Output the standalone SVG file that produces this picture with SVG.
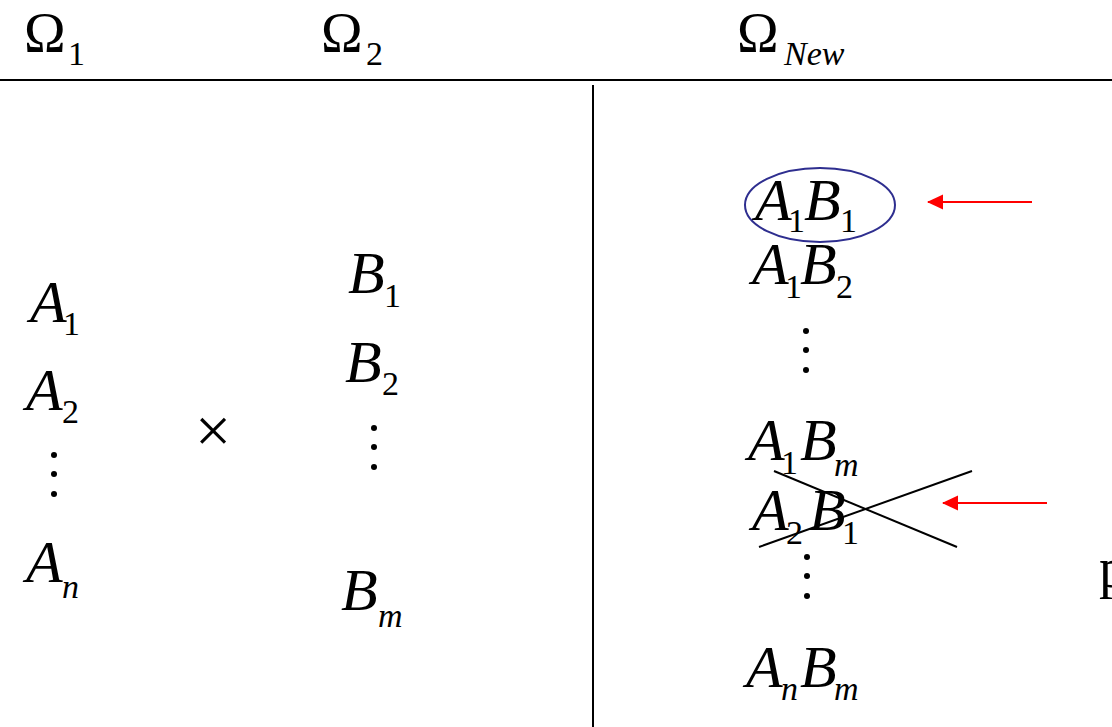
<svg xmlns="http://www.w3.org/2000/svg" width="1112" height="727" viewBox="0 0 1112 727">
<defs>
<style>
text{font-family:"Liberation Serif","Times New Roman","DejaVu Serif",serif;fill:#000}
.m{font-style:italic;font-size:60px}
.s{font-size:34px}
.si{font-style:italic;font-size:34px}
.o{font-size:56px}
.ln{stroke:#000;stroke-width:2;fill:none}
.ar{stroke:#ff0000;stroke-width:2;fill:none}
</style>
<marker id="ah" viewBox="0 0 16 16" refX="15" refY="8" markerWidth="16" markerHeight="16" markerUnits="userSpaceOnUse" orient="auto">
<path d="M16,8 L0,0.5 L0,15.5 Z" fill="#ff0000"/>
</marker>
</defs>
<rect width="1112" height="727" fill="#fff"/>
<g id="headers">
<g id="omega1"><text class="o" x="24" y="52">Ω</text><text class="s" x="68" y="65">1</text></g>
<g id="omega2"><text class="o" x="321" y="52">Ω</text><text class="s" x="366" y="65">2</text></g>
<g id="omegaNew"><text class="o" x="737" y="52">Ω</text><text class="si" x="784" y="65">New</text></g>
</g>
<g id="frame">
<line class="ln" x1="0" y1="80" x2="1112" y2="80"/>
<line class="ln" x1="593" y1="85" x2="593" y2="727"/>
</g>
<g id="setA">
<g id="A1"><text class="m" x="30" y="322">A</text><text class="s" x="63" y="335">1</text></g>
<g id="A2"><text class="m" x="26" y="410">A</text><text class="s" x="62" y="423">2</text></g>
<g id="dotsA" fill="#000"><circle cx="54" cy="455" r="3"/><circle cx="54" cy="474" r="3"/><circle cx="54" cy="494" r="3"/></g>
<g id="An"><text class="m" x="26" y="582">A</text><text class="si" x="62" y="598">n</text></g>
</g>
<g id="times"><text x="213" y="452" text-anchor="middle" style="font-size:64px">×</text></g>
<g id="setB">
<g id="B1"><text class="m" x="348" y="293">B</text><text class="s" x="384" y="307">1</text></g>
<g id="B2"><text class="m" x="345" y="382">B</text><text class="s" x="382" y="395">2</text></g>
<g id="dotsB" fill="#000"><circle cx="374" cy="428" r="3"/><circle cx="374" cy="447" r="3"/><circle cx="374" cy="467" r="3"/></g>
<g id="Bm"><text class="m" x="341" y="610">B</text><text class="si" x="378" y="627">m</text></g>
</g>
<g id="product">
<g id="A1B1"><text class="m" x="755" y="220">A</text><text class="s" x="788" y="232">1</text><text class="m" x="804" y="220">B</text><text class="s" x="840" y="232">1</text>
<ellipse cx="820" cy="205" rx="75" ry="37" fill="none" stroke="#2e2e8f" stroke-width="2"/></g>
<g id="A1B2"><text class="m" x="752" y="284">A</text><text class="s" x="785" y="298">1</text><text class="m" x="800" y="284">B</text><text class="s" x="836" y="298">2</text></g>
<g id="dotsP1" fill="#000"><circle cx="806" cy="331" r="3"/><circle cx="806" cy="350" r="3"/><circle cx="806" cy="370" r="3"/></g>
<g id="A1Bm"><text class="m" x="748" y="460">A</text><text class="s" x="781" y="474">1</text><text class="m" x="800" y="460">B</text><text class="si" x="834" y="476">m</text></g>
<g id="A2B1"><text class="m" x="752" y="530">A</text><text class="s" x="786" y="544">2</text><text class="m" x="809" y="530">B</text><text class="s" x="842" y="544">1</text></g>
<g id="dotsP2" fill="#000"><circle cx="807" cy="557" r="3"/><circle cx="807" cy="576" r="3"/><circle cx="807" cy="596" r="3"/></g>
<g id="AnBm"><text class="m" x="746" y="687">A</text><text class="si" x="781" y="700">n</text><text class="m" x="800" y="687">B</text><text class="si" x="834" y="700">m</text></g>
<text class="o" x="1099" y="587">p</text>
</g>
<g id="connectors">
<line class="ln" x1="774" y1="471" x2="957" y2="547"/>
<line class="ln" x1="759" y1="547" x2="972" y2="471"/>
<line class="ar" x1="1032" y1="202" x2="928" y2="202" marker-end="url(#ah)"/>
<line class="ar" x1="1047" y1="503" x2="943" y2="503" marker-end="url(#ah)"/>
</g>
</svg>
